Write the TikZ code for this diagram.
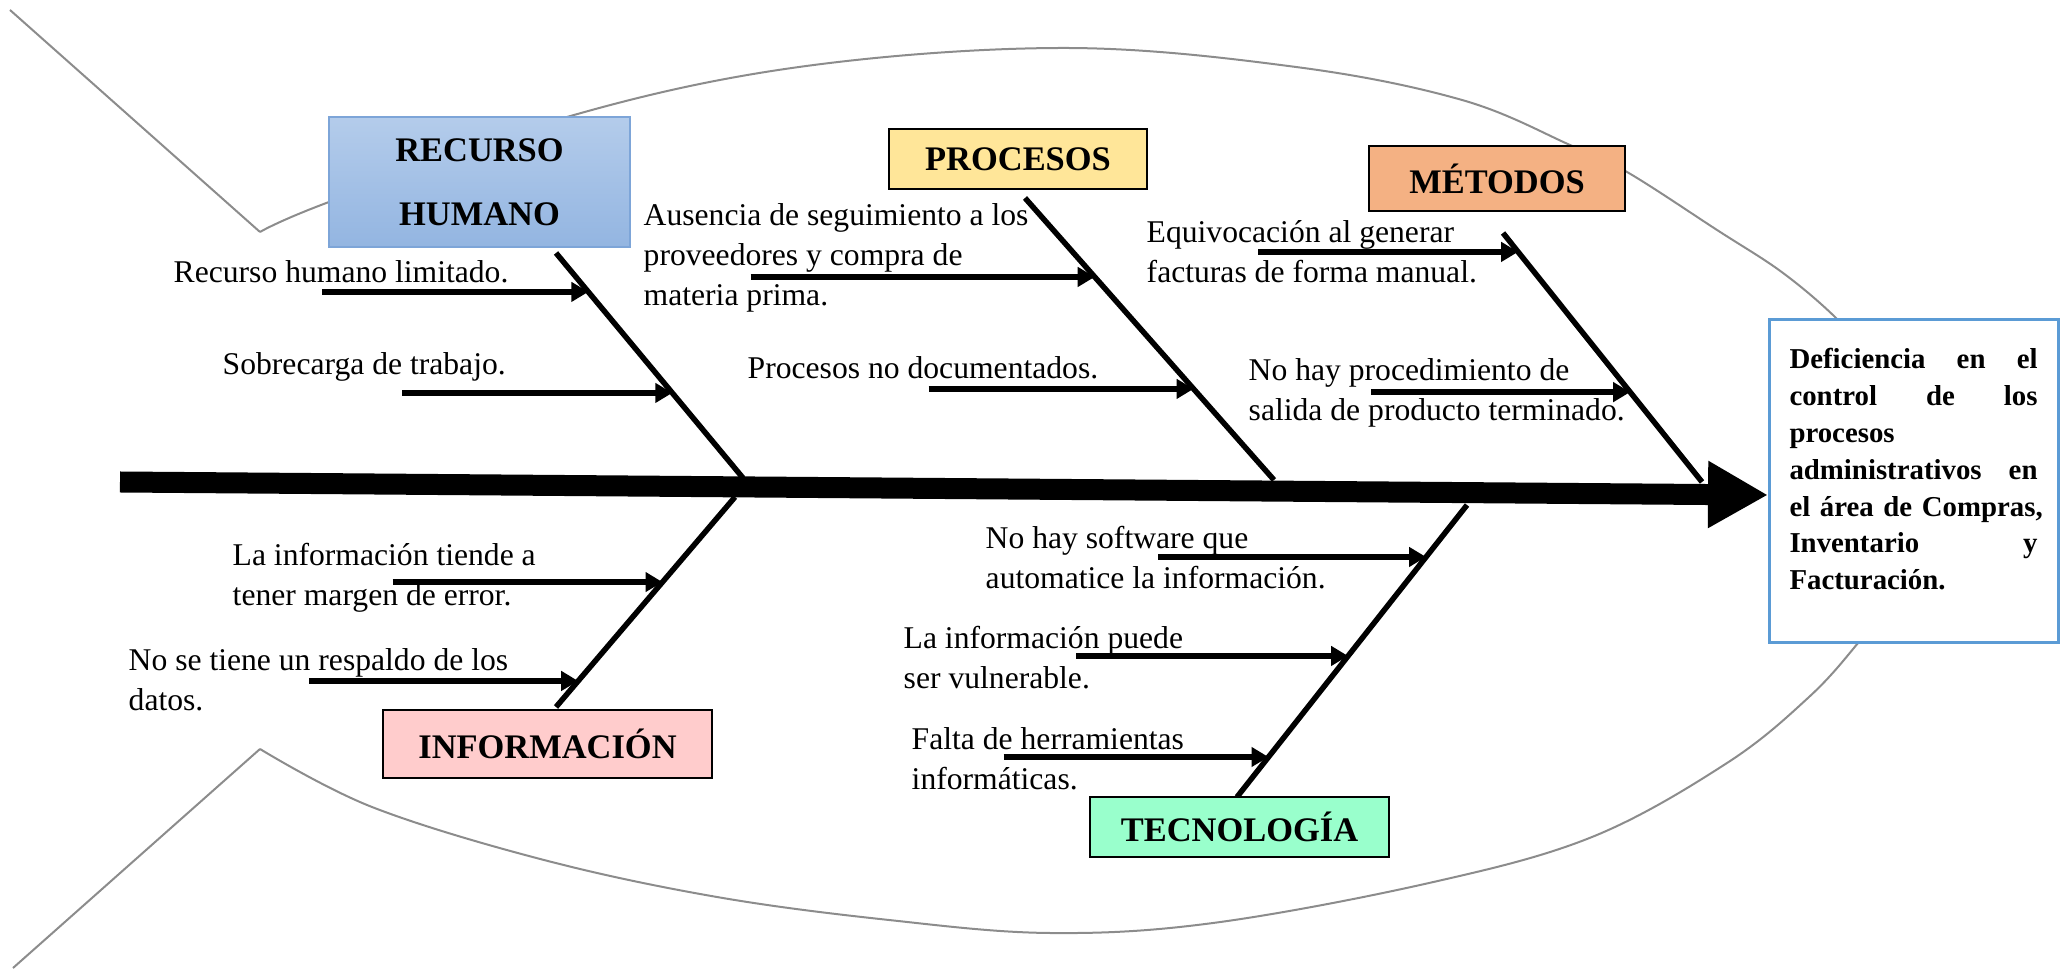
\documentclass[tikz,border=0pt]{standalone}
\usepackage{fontspec}
\setmainfont{Liberation Serif}
\usetikzlibrary{arrows.meta,calc}

\definecolor{rhtop}{HTML}{B4CCEB}
\definecolor{rhbot}{HTML}{93B5E1}
\definecolor{rhline}{HTML}{7DA5D8}
\definecolor{prfill}{HTML}{FFE699}
\definecolor{mefill}{HTML}{F4B183}
\definecolor{infill}{HTML}{FFCCCC}
\definecolor{tefill}{HTML}{99FFCC}
\definecolor{effline}{HTML}{5B9BD5}

\begin{document}
\begin{tikzpicture}[
    fish/.style={draw=black!45, line width=0.2mm},
    bone/.style={line width=0.55mm},
    cause/.style={line width=0.55mm, -{Triangle[length=1.7mm,width=1.9mm]}},
    catbox/.style={draw=black, line width=0.25mm, inner sep=0, align=center,
        font=\fontsize{9.8}{11}\selectfont\bfseries},
    causetxt/.style={anchor=west, align=left, inner sep=0,
        font=\fontsize{9}{11.4}\selectfont}
]
    \useasboundingbox (0,0) rectangle (20.62,9.73);

    % Fish outline
    \draw[fish] (0.10,9.63) -- (2.60,7.41);
    \draw[fish] plot[smooth, tension=0.6] coordinates {(2.60,7.41) (3.29,7.71) (5.67,8.56) (7.99,9.06) (10.64,9.25) (12.96,9.06) (14.62,8.73) (15.70,8.28) (16.27,8.01) (17.17,7.43) (17.83,7.00) (18.38,6.53) (18.70,6.13)};
    \draw[fish] (0.13,0.05) -- (2.60,2.24);
    \draw[fish] plot[smooth, tension=0.6] coordinates {(2.60,2.24) (3.72,1.66) (5.44,1.13) (7.17,0.76) (8.89,0.53) (10.50,0.40) (12.13,0.50) (14.29,0.90) (15.92,1.36) (17.27,2.10) (18.09,2.76) (18.58,3.30) (18.90,3.73)};

    % Bones
    \coordinate (rhA) at (5.56,7.20);   \coordinate (rhB) at (7.43,4.95);
    \coordinate (prA) at (10.25,7.75);  \coordinate (prB) at (12.74,4.93);
    \coordinate (meA) at (15.03,7.40);  \coordinate (meB) at (17.02,4.91);
    \coordinate (inA) at (7.35,4.76);   \coordinate (inB) at (5.56,2.66);
    \coordinate (teA) at (14.67,4.68);  \coordinate (teB) at (12.37,1.76);
    \draw[bone] (rhA) -- (rhB);
    \draw[bone] (prA) -- (prB);
    \draw[bone] (meA) -- (meB);
    \draw[bone] (inA) -- (inB);
    \draw[bone] (teA) -- (teB);

    % Spine
    \coordinate (tail) at (1.20,4.91);
    \coordinate (head) at (17.68,4.78);
    \draw[line width=2.1mm, -{Triangle[length=6mm,width=6.3mm]}] (tail) -- (head);

    % Categories
    \node[catbox, top color=rhtop, bottom color=rhbot, draw=rhline,
        minimum width=3.01cm, minimum height=1.30cm,
        font=\fontsize{9.8}{18.2}\selectfont\bfseries] (rh) at (4.795,7.91) {RECURSO\\HUMANO};
    \node[catbox, fill=prfill, minimum width=2.58cm, minimum height=0.60cm] (pr) at (10.18,8.14) {PROCESOS};
    \node[catbox, fill=mefill, minimum width=2.56cm, minimum height=0.65cm] (me) at (14.97,7.945) {MÉTODOS};
    \node[catbox, fill=infill, minimum width=3.29cm, minimum height=0.68cm] (in) at (5.475,2.29) {INFORMACIÓN};
    \node[catbox, fill=tefill, minimum width=2.99cm, minimum height=0.60cm] (te) at (12.395,1.46) {TECNOLOGÍA};

    % Effect
    \node[draw=effline, line width=0.3mm, fill=white, inner sep=0,
        minimum width=2.89cm, minimum height=3.23cm, text width=2.48cm, align=left,
        font=\fontsize{8.2}{10.5}\selectfont\bfseries] (effect) at (19.135,4.915)
        {Deficiencia\hfill en\hfill el\\control\hfill de\hfill los\\procesos\\administrativos\hfill en\\\mbox{el área de Compras,}\\Inventario\hfill y\\Facturación.\rule[-0.25cm]{0pt}{0.1cm}};

    % Causes
    \node[causetxt] (rhlim) at (1.73,7.01) {Recurso humano limitado.};
    \node[causetxt] (rhsob) at (2.22,6.06) {Sobrecarga de trabajo.};
    \node[causetxt] (prseg) at (6.43,7.155) {Ausencia de seguimiento a los\\proveedores y compra de\\materia prima.};
    \node[causetxt] (prdoc) at (7.47,6.05) {Procesos no documentados.};
    \node[causetxt] (mefac) at (11.46,7.21) {Equivocación al generar\\facturas de forma manual.};
    \node[causetxt] (mesal) at (12.48,5.80) {No hay procedimiento de\\salida de producto terminado.};
    \node[causetxt] (inerr) at (2.32,3.955) {La información tiende a\\tener margen de error.};
    \node[causetxt] (inres) at (1.28,2.93) {No se tiene un respaldo de los\\datos.};
    \node[causetxt] (tesof) at (9.85,4.155) {No hay software que\\automatice la información.};
    \node[causetxt] (tevul) at (9.03,3.155) {La información puede\\ser vulnerable.};
    \node[causetxt] (teher) at (9.11,2.145) {Falta de herramientas\\informáticas.};

    \draw[cause] ($(rhA)!0.173!(rhB)+(-2.66,0)$) -- ($(rhA)!0.173!(rhB)$);
    \draw[cause] ($(rhA)!0.622!(rhB)+(-2.70,0)$) -- ($(rhA)!0.622!(rhB)$);
    \draw[cause] ($(prA)!0.280!(prB)+(-3.44,0)$) -- ($(prA)!0.280!(prB)$);
    \draw[cause] ($(prA)!0.677!(prB)+(-2.65,0)$) -- ($(prA)!0.677!(prB)$);
    \draw[cause] ($(meA)!0.076!(meB)+(-2.60,0)$) -- ($(meA)!0.076!(meB)$);
    \draw[cause] ($(meA)!0.639!(meB)+(-2.59,0)$) -- ($(meA)!0.639!(meB)$);
    \draw[cause] ($(inA)!0.405!(inB)+(-2.70,0)$) -- ($(inA)!0.405!(inB)$);
    \draw[cause] ($(inA)!0.876!(inB)+(-2.69,0)$) -- ($(inA)!0.876!(inB)$);
    \draw[cause] ($(teA)!0.178!(teB)+(-2.68,0)$) -- ($(teA)!0.178!(teB)$);
    \draw[cause] ($(teA)!0.517!(teB)+(-2.72,0)$) -- ($(teA)!0.517!(teB)$);
    \draw[cause] ($(teA)!0.863!(teB)+(-2.65,0)$) -- ($(teA)!0.863!(teB)$);
\end{tikzpicture}
\end{document}
